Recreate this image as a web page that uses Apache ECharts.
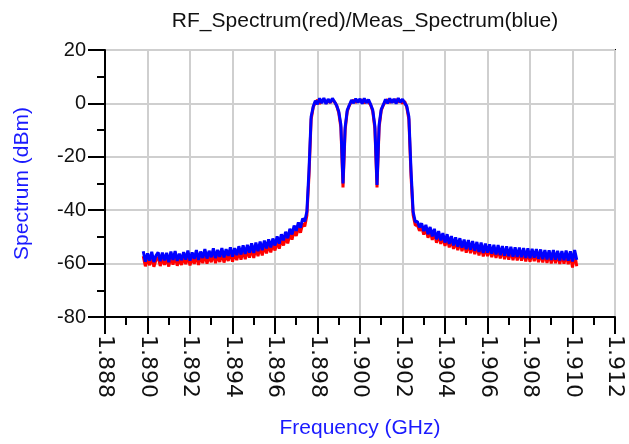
<!DOCTYPE html>
<html>
<head>
<meta charset="utf-8">
<script src="https://cdn.jsdelivr.net/npm/echarts@6/dist/echarts.min.js"></script>
<style>
html,body{margin:0;padding:0;background:#fff;}
#chart{width:629px;height:444px;}
</style>
</head>
<body>
<div id="chart"></div>
<script>
// Sample grid: frequency (GHz) of the first sample and the sample spacing
const freqStart = 1.8898;
const freqStep = 0.0001;

// Meas_Spectrum (blue), dBm, one value per sample
const measSpectrum = [
  -55.4,-59.3,-56.2,-58.9,-55.6,-59.4,-57.0,-55.8,-59.1,-55.9,
  -58.8,-56.0,-59.5,-55.5,-58.6,-55.3,-59.0,-56.3,-58.7,-55.7,
  -58.5,-55.1,-58.9,-55.8,-58.2,-54.9,-58.6,-55.5,-57.9,-54.6,
  -58.1,-55.2,-57.6,-54.3,-57.9,-54.9,-57.5,-54.2,-57.7,-54.6,
  -57.1,-53.9,-57.4,-54.2,-56.8,-53.5,-56.6,-53.2,-56.4,-53.0,
  -55.9,-52.4,-56.0,-52.1,-55.3,-51.8,-55.0,-51.4,-54.3,-50.9,
  -53.9,-50.6,-53.2,-49.8,-52.5,-49.0,-51.3,-48.1,-50.5,-47.0,
  -49.1,-45.8,-47.7,-44.6,-46.5,-43.1,-44.2,-40.5,
  -25,-5,
  -1.2,1.0,-0.3,1.9,0.1,2.0,-0.2,1.6,0.3,1.9,
  0.6,-0.8,-3.0,-8.0,
  -30,-9,-2.5,
  -0.6,1.2,0.1,1.8,0.3,1.7,-0.1,1.9,0.2,1.4,-0.4,-2.5,-8.5,-30.5,-8.0,-2.2,-0.5,
  1.5,0.0,1.9,0.2,1.7,-0.1,2.0,0.4,1.6,0.2,-1.0,-5,-25,
  -40.6,-44.3,-44.2,
  -46.4,-44.9,-47.8,-45.5,-49.0,-46.3,-49.8,-47.0,-50.9,-47.8,
  -51.3,-48.6,-52.1,-49.0,-52.6,-49.7,-53.2,-50.2,-53.7,-50.5,
  -54.0,-51.0,-54.6,-51.2,-54.8,-51.6,-55.2,-51.9,-55.6,-52.1,
  -56.0,-52.5,-55.9,-52.8,-56.3,-53.0,-56.6,-53.1,-56.8,-53.4,
  -57.0,-53.5,-57.2,-53.7,-57.4,-53.9,-57.5,-54.0,-57.6,-54.2,
  -57.9,-54.3,-58.0,-54.5,-57.8,-54.6,-58.2,-54.7,-58.3,-54.9,
  -58.4,-55.0,-58.6,-54.9,-58.5,-55.2,-58.8,-55.3,-58.7,-55.1,
  -58.9,-55.4,-59.2,-54.9,-58.6
];

// RF_Spectrum (red), dBm, one value per sample
const rfSpectrum = [
  -57.2,-61.0,-58.0,-60.6,-57.5,-61.2,-58.6,-57.6,-60.9,-57.8,
  -60.5,-57.9,-61.1,-57.4,-60.4,-57.2,-60.8,-58.2,-60.5,-57.6,
  -60.2,-57.0,-60.7,-57.6,-60.1,-56.8,-60.5,-57.3,-59.8,-56.5,
  -60.0,-57.1,-59.5,-56.2,-59.8,-56.8,-59.4,-56.1,-59.6,-56.5,
  -59.0,-55.8,-59.3,-56.1,-58.7,-55.4,-58.5,-55.1,-58.3,-54.9,
  -57.8,-54.3,-57.9,-54.0,-57.2,-53.7,-56.9,-53.3,-56.2,-52.8,
  -55.8,-52.5,-55.1,-51.7,-54.4,-50.9,-53.2,-50.0,-52.4,-48.9,
  -51.0,-47.7,-49.6,-46.5,-48.4,-45.0,-46.1,-42.0,
  -27,-6,-1.4,0.5,1.2,-0.1,0.9,1.5,0.1,1.0,0.3,1.3,0.6,-0.8,-3.5,-9.0,-31.5,-10,-3.0,
  -0.7,0.7,1.2,0.4,1.1,0.8,1.3,0.2,1.0,0.5,-0.5,-3.0,-9.5,-31.5,-9.0,-2.6,-0.6,
  0.9,1.4,0.3,1.2,0.6,1.5,0.5,1.1,0.0,0.8,-1.4,-6,-27,
  -41.8,-45.6,-45.5,
  -47.7,-46.2,-49.1,-46.8,-50.3,-47.6,-51.1,-48.3,-52.2,-49.1,
  -52.6,-49.9,-53.4,-50.3,-53.9,-51.0,-54.5,-51.5,-55.0,-51.8,
  -55.3,-52.3,-55.9,-52.5,-56.1,-52.9,-56.5,-53.2,-56.9,-53.4,
  -57.3,-53.8,-57.2,-54.1,-57.6,-54.3,-57.9,-54.4,-58.1,-54.7,
  -58.3,-54.8,-58.5,-55.0,-58.7,-55.2,-58.8,-55.3,-58.9,-55.5,
  -59.2,-55.6,-59.3,-55.8,-59.1,-55.9,-59.5,-56.0,-59.6,-56.2,
  -59.7,-56.3,-59.9,-56.2,-59.8,-56.5,-60.1,-56.6,-60.0,-56.4,
  -60.2,-56.7,-61.5,-56.2,-61.0
];

// Axis ranges / ticks
const xMin = 1.888, xMax = 1.912, xInterval = 0.002;
const yMin = -80, yMax = 20, yInterval = 20;

const titleText = 'RF_Spectrum(red)/Meas_Spectrum(blue)';
const xName = 'Frequency (GHz)';
const yName = 'Spectrum (dBm)';

function toPairs(vals) {
  return vals.map((v, i) => [Math.round((freqStart + i * freqStep) * 1e5) / 1e5, v]);
}

const font = '"Liberation Sans", Arial, sans-serif';
const chart = echarts.init(document.getElementById('chart'), null, {renderer: 'canvas'});
chart.setOption({
  animation: false,
  backgroundColor: '#ffffff',
  title: {
    text: titleText,
    left: 360, top: 6, textAlign: 'center',
    textStyle: {fontFamily: font, fontSize: 21, fontWeight: 'normal', color: '#111'}
  },
  grid: {
    left: 105, right: 14, top: 50, bottom: 118,
    show: true, borderColor: '#000', borderWidth: 2, backgroundColor: 'transparent'
  },
  xAxis: {
    type: 'value', min: xMin, max: xMax, interval: xInterval,
    name: xName, nameLocation: 'middle', nameGap: 101,
    nameTextStyle: {fontFamily: font, fontSize: 21, color: '#1a1aff'},
    axisLine: {show: true, onZero: false, lineStyle: {color: '#000', width: 2}},
    axisTick: {show: true, inside: false, length: 17, lineStyle: {color: '#000', width: 2}},
    minorTick: {show: true, splitNumber: 2, length: 8, lineStyle: {color: '#000', width: 2}},
    axisLabel: {
      rotate: -90, margin: 18, fontFamily: '"DejaVu Sans", sans-serif', fontSize: 22, color: '#111',
      formatter: v => v.toFixed(3)
    },
    splitLine: {show: true, lineStyle: {color: '#cfcfcf', width: 2}}
  },
  yAxis: {
    type: 'value', min: yMin, max: yMax, interval: yInterval,
    name: yName, nameLocation: 'middle', nameGap: 72,
    nameTextStyle: {fontFamily: font, fontSize: 21, color: '#1a1aff'},
    axisLine: {show: true, onZero: false, lineStyle: {color: '#000', width: 2}},
    axisTick: {show: true, inside: false, length: 17, lineStyle: {color: '#000', width: 2}},
    minorTick: {show: true, splitNumber: 2, length: 8, lineStyle: {color: '#000', width: 2}},
    axisLabel: {margin: 19, fontFamily: font, fontSize: 20, color: '#111'},
    splitLine: {show: true, lineStyle: {color: '#cfcfcf', width: 2}}
  },
  series: [
    {
      name: 'RF_Spectrum', type: 'line', data: toPairs(rfSpectrum),
      showSymbol: false, lineStyle: {color: '#ff0000', width: 3}, z: 2
    },
    {
      name: 'Meas_Spectrum', type: 'line', data: toPairs(measSpectrum),
      showSymbol: false, lineStyle: {color: '#0000ff', width: 3}, z: 3
    }
  ]
});
</script>
</body>
</html>
